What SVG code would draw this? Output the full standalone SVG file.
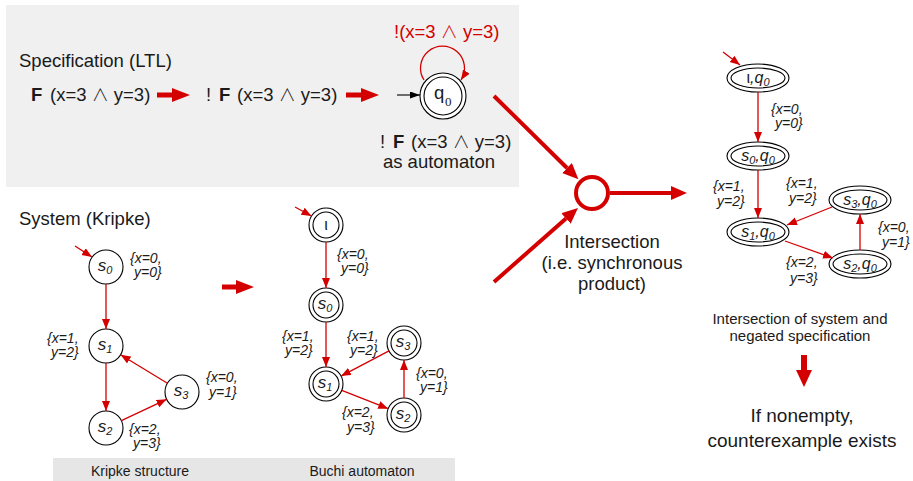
<svg xmlns="http://www.w3.org/2000/svg" width="913" height="481" viewBox="0 0 913 481">
<defs>
<style>
text{font-family:"Liberation Sans",Arial,"DejaVu Sans",sans-serif;fill:#1a1a1a}
.big{font-size:18.5px}
.b{font-weight:bold}
.w{font-family:"Noto Sans CJK JP","DejaVu Sans",sans-serif;font-size:17px;font-weight:300}
.mid{font-size:15px}
.lbl{font-size:14px;font-style:italic}
.nl{font-size:17px;font-style:italic}
.pl{font-size:16px;font-style:italic}
.sub{font-size:11px}
.red{fill:#d40000}
.n{fill:#fff;stroke:#000;stroke-width:1.1}
.ni{fill:none;stroke:#000;stroke-width:1.1}
.e{stroke:#d40000;stroke-width:1.3;fill:none;marker-end:url(#ah)}
.E5{stroke:#d40000;stroke-width:5;fill:none;marker-end:url(#bh5)}
.E4{stroke:#d40000;stroke-width:4;fill:none;marker-end:url(#bh4)}
</style>
<marker id="ah" markerUnits="userSpaceOnUse" markerWidth="11" markerHeight="9" refX="10" refY="4" orient="auto"><path d="M0,0 L10,4 L0,8z" fill="#d40000"/></marker>
<marker id="ahk" markerUnits="userSpaceOnUse" markerWidth="11" markerHeight="9" refX="10" refY="3.5" orient="auto"><path d="M0,0 L10,3.5 L0,7z" fill="#000"/></marker>
<marker id="bh5" markerUnits="userSpaceOnUse" markerWidth="19" markerHeight="15" refX="0" refY="7" orient="auto"><path d="M0,0 L18,7 L0,14z" fill="#d40000"/></marker>
<marker id="bh4" markerUnits="userSpaceOnUse" markerWidth="17" markerHeight="15" refX="0" refY="7" orient="auto"><path d="M0,0 L16,7 L0,14z" fill="#d40000"/></marker>
<marker id="bh6" markerUnits="userSpaceOnUse" markerWidth="19" markerHeight="17" refX="0" refY="8" orient="auto"><path d="M0,0 L17,8 L0,16z" fill="#d40000"/></marker>
</defs>

<rect x="6" y="5" width="513" height="182" fill="#f0f0f0"/>
<rect x="53" y="458" width="402" height="23" fill="#e6e6e6"/>

<g id="spec-texts">
<text class="big" x="19" y="67">Specification (LTL)</text>
<text class="big"><tspan class="b" x="31" y="101">F</tspan><tspan x="50" y="101">(x=3 <tspan class="w">∧</tspan> y=3)</tspan></text>
<text class="big"><tspan x="206" y="101">!</tspan><tspan class="b" x="219" y="101">F</tspan><tspan x="237" y="101">(x=3 <tspan class="w">∧</tspan> y=3)</tspan></text>
<text class="big"><tspan x="380" y="148">!</tspan><tspan class="b" x="393" y="148">F</tspan><tspan x="411" y="148">(x=3 <tspan class="w">∧</tspan> y=3)</tspan><tspan x="439" y="168" text-anchor="middle">as automaton</tspan></text>
<text class="big red" x="394" y="38">!(x=3 <tspan class="w">∧</tspan> y=3)</text>
</g>

<g id="q0">
<circle class="n" cx="443" cy="96" r="23"/>
<circle class="ni" cx="443" cy="96" r="19"/>
<text class="big" x="434" y="99">q</text>
<text x="445" y="106" style="font-family:'Liberation Serif',serif;font-size:13px">0</text>
</g>

<text class="big" x="19" y="225">System (Kripke)</text>

<g id="k-s0"><circle class="n" cx="106" cy="267" r="17"/><text class="nl" x="105" y="271" text-anchor="middle">s<tspan class="sub" dy="3">0</tspan></text></g>
<g id="k-s1"><circle class="n" cx="106" cy="346" r="17"/><text class="nl" x="105" y="350" text-anchor="middle">s<tspan class="sub" dy="3">1</tspan></text></g>
<g id="k-s2"><circle class="n" cx="106" cy="428" r="17"/><text class="nl" x="105" y="432" text-anchor="middle">s<tspan class="sub" dy="3">2</tspan></text></g>
<g id="k-s3"><circle class="n" cx="182" cy="392" r="17"/><text class="nl" x="181" y="396" text-anchor="middle">s<tspan class="sub" dy="3">3</tspan></text></g>

<g id="k-labels">
<text class="lbl"><tspan x="130" y="263">{x=0,</tspan><tspan x="134" y="277">y=0}</tspan></text>
<text class="lbl"><tspan x="47" y="343">{x=1,</tspan><tspan x="51" y="357">y=2}</tspan></text>
<text class="lbl"><tspan x="206" y="382">{x=0,</tspan><tspan x="209" y="397">y=1}</tspan></text>
<text class="lbl"><tspan x="129" y="434">{x=2,</tspan><tspan x="133" y="448">y=3}</tspan></text>
</g>

<g id="b-i"><circle class="n" cx="326" cy="225" r="17"/><circle class="ni" cx="326" cy="225" r="13"/><text x="326" y="230" text-anchor="middle" style="font-size:16px">ι</text></g>
<g id="b-s0"><circle class="n" cx="326" cy="305" r="17"/><circle class="ni" cx="326" cy="305" r="13"/><text class="nl" x="325" y="309" text-anchor="middle">s<tspan class="sub" dy="3">0</tspan></text></g>
<g id="b-s1"><circle class="n" cx="326" cy="384" r="17"/><circle class="ni" cx="326" cy="384" r="13"/><text class="nl" x="325" y="388" text-anchor="middle">s<tspan class="sub" dy="3">1</tspan></text></g>
<g id="b-s2"><circle class="n" cx="404" cy="415" r="17"/><circle class="ni" cx="404" cy="415" r="13"/><text class="nl" x="403" y="419" text-anchor="middle">s<tspan class="sub" dy="3">2</tspan></text></g>
<g id="b-s3"><circle class="n" cx="404" cy="343" r="17"/><circle class="ni" cx="404" cy="343" r="13"/><text class="nl" x="403" y="347" text-anchor="middle">s<tspan class="sub" dy="3">3</tspan></text></g>

<g id="b-labels">
<text class="lbl"><tspan x="337" y="259">{x=0,</tspan><tspan x="341" y="273">y=0}</tspan></text>
<text class="lbl"><tspan x="282" y="341">{x=1,</tspan><tspan x="285" y="355">y=2}</tspan></text>
<text class="lbl"><tspan x="347" y="341">{x=1,</tspan><tspan x="350" y="355">y=2}</tspan></text>
<text class="lbl"><tspan x="416" y="378">{x=0,</tspan><tspan x="420" y="392">y=1}</tspan></text>
<text class="lbl"><tspan x="342" y="417">{x=2,</tspan><tspan x="347" y="432">y=3}</tspan></text>
</g>

<text x="140" y="476" text-anchor="middle" style="font-size:14px">Kripke structure</text>
<text x="362" y="476" text-anchor="middle" style="font-size:14px">Buchi automaton</text>

<g id="intersection">
<circle cx="592" cy="193" r="16" fill="#fff" stroke="#d40000" stroke-width="4"/>
<text class="big" text-anchor="middle"><tspan x="612" y="248">Intersection</tspan><tspan x="612" y="269">(i.e. synchronous</tspan><tspan x="612" y="290">product)</tspan></text>
</g>

<g id="p-iq0"><ellipse class="n" cx="758" cy="78" rx="31" ry="14"/><ellipse class="ni" cx="758" cy="78" rx="27" ry="10"/><text class="pl" x="758" y="83" text-anchor="middle"><tspan style="font-style:normal">ι</tspan>,q<tspan class="sub" dy="3">0</tspan></text></g>
<g id="p-s0q0"><ellipse class="n" cx="758" cy="156" rx="31" ry="14"/><ellipse class="ni" cx="758" cy="156" rx="27" ry="10"/><text class="pl" x="758" y="161" text-anchor="middle">s<tspan class="sub" dy="3">0</tspan><tspan dy="-3">,q</tspan><tspan class="sub" dy="3">0</tspan></text></g>
<g id="p-s1q0"><ellipse class="n" cx="758" cy="232" rx="31" ry="14"/><ellipse class="ni" cx="758" cy="232" rx="27" ry="10"/><text class="pl" x="758" y="237" text-anchor="middle">s<tspan class="sub" dy="3">1</tspan><tspan dy="-3">,q</tspan><tspan class="sub" dy="3">0</tspan></text></g>
<g id="p-s3q0"><ellipse class="n" cx="860" cy="200" rx="31" ry="14"/><ellipse class="ni" cx="860" cy="200" rx="27" ry="10"/><text class="pl" x="860" y="205" text-anchor="middle">s<tspan class="sub" dy="3">3</tspan><tspan dy="-3">,q</tspan><tspan class="sub" dy="3">0</tspan></text></g>
<g id="p-s2q0"><ellipse class="n" cx="860" cy="264" rx="31" ry="14"/><ellipse class="ni" cx="860" cy="264" rx="27" ry="10"/><text class="pl" x="860" y="269" text-anchor="middle">s<tspan class="sub" dy="3">2</tspan><tspan dy="-3">,q</tspan><tspan class="sub" dy="3">0</tspan></text></g>

<g id="p-labels">
<text class="lbl"><tspan x="771" y="114">{x=0,</tspan><tspan x="775" y="128">y=0}</tspan></text>
<text class="lbl"><tspan x="713" y="191">{x=1,</tspan><tspan x="717" y="206">y=2}</tspan></text>
<text class="lbl"><tspan x="786" y="188">{x=1,</tspan><tspan x="789" y="203">y=2}</tspan></text>
<text class="lbl"><tspan x="878" y="232">{x=0,</tspan><tspan x="882" y="247">y=1}</tspan></text>
<text class="lbl"><tspan x="786" y="267">{x=2,</tspan><tspan x="790" y="283">y=3}</tspan></text>
</g>

<g id="result-texts">
<text class="mid" text-anchor="middle"><tspan x="800" y="324">Intersection of system and</tspan><tspan x="800" y="341">negated specification</tspan></text>
<text text-anchor="middle" style="font-size:19px"><tspan x="802" y="422">If nonempty,</tspan><tspan x="802" y="447">counterexample exists</tspan></text>
</g>

<g id="connectors">
<line class="E5" x1="157" y1="95" x2="172" y2="95"/>
<line class="E5" x1="346" y1="95" x2="361" y2="95"/>
<line x1="397" y1="95" x2="420" y2="95" stroke="#000" stroke-width="1.1" marker-end="url(#ahk)"/>
<path class="e" d="M424,80 A22,22 0 1 1 461,80"/>
<line class="E5" x1="222" y1="287" x2="236" y2="287"/>
<line class="E4" x1="494" y1="96" x2="567" y2="168"/>
<line class="E4" x1="494" y1="282" x2="566" y2="218.5"/>
<line class="E4" x1="610" y1="193" x2="671" y2="193"/>
<line stroke="#d40000" stroke-width="6" x1="804" y1="355" x2="804" y2="370" marker-end="url(#bh6)"/>

<line class="e" x1="75" y1="246" x2="92" y2="257"/>
<line class="e" x1="106" y1="284" x2="106" y2="329"/>
<line class="e" x1="106" y1="363" x2="106" y2="411"/>
<line class="e" x1="167.4" y1="383.2" x2="120.6" y2="354.8"/>
<line class="e" x1="121.4" y1="420.7" x2="166.6" y2="399.3"/>

<line class="e" x1="295" y1="207" x2="311.5" y2="216"/>
<line class="e" x1="326" y1="242" x2="326" y2="288"/>
<line class="e" x1="326" y1="322" x2="326" y2="367"/>
<line class="e" x1="389" y1="350.9" x2="341" y2="376.1"/>
<line class="e" x1="341.8" y1="390.3" x2="388.2" y2="408.7"/>
<line class="e" x1="404" y1="398" x2="404" y2="360"/>

<line class="e" x1="723" y1="52" x2="740" y2="65"/>
<line class="e" x1="758" y1="92" x2="758" y2="142"/>
<line class="e" x1="758" y1="170" x2="758" y2="218"/>
<line class="e" x1="832" y1="207" x2="787" y2="225"/>
<line class="e" x1="785" y1="241" x2="833" y2="258"/>
<line class="e" x1="860" y1="250" x2="860" y2="214"/>
</g>
</svg>
